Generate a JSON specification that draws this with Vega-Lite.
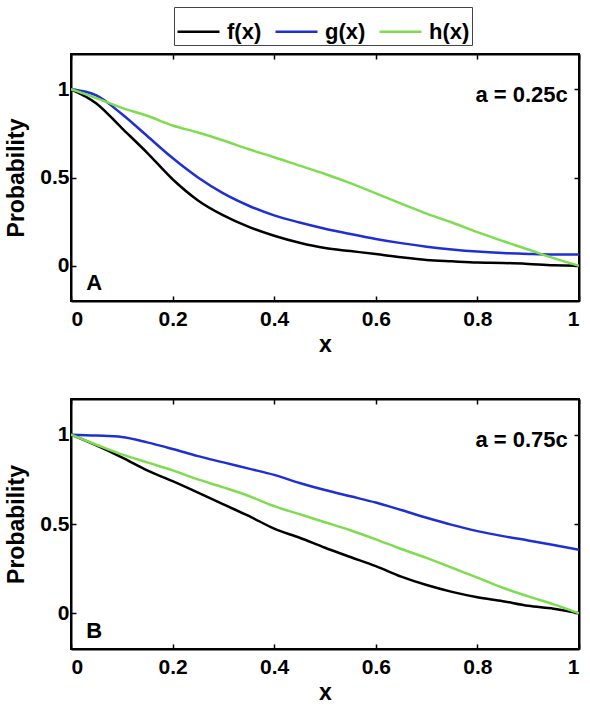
{
  "$schema": "https://vega.github.io/schema/vega-lite/v6.json",
  "background": "white",
  "padding": {"left": 4, "top": 6, "right": 5, "bottom": 5},
  "config": {
    "font": "Liberation Sans",
    "view": {"stroke": "black", "strokeWidth": 2},
    "axis": {
      "domainColor": "black", "domainWidth": 2, "tickColor": "black", "tickWidth": 1.5,
      "tickSize": -5, "grid": false,
      "labelFont": "Liberation Sans", "labelFontSize": 21, "labelFontWeight": "bold", "labelColor": "black",
      "titleFont": "Liberation Sans", "titleFontSize": 23, "titleFontWeight": "bold", "titleColor": "black"
    },
    "legend": {
      "labelFont": "Liberation Sans", "labelFontSize": 22, "labelFontWeight": "bold", "labelColor": "black"
    }
  },
  "datasets": {
    "curves": [
      {"panel":"A","series":"f(x)","x":0,"y":1},{"panel":"A","series":"f(x)","x":0.05,"y":0.92},{"panel":"A","series":"f(x)","x":0.1,"y":0.78},{"panel":"A","series":"f(x)","x":0.15,"y":0.64},{"panel":"A","series":"f(x)","x":0.2,"y":0.49},{"panel":"A","series":"f(x)","x":0.25,"y":0.37},{"panel":"A","series":"f(x)","x":0.3,"y":0.285},{"panel":"A","series":"f(x)","x":0.35,"y":0.22},{"panel":"A","series":"f(x)","x":0.4,"y":0.17},{"panel":"A","series":"f(x)","x":0.45,"y":0.13},{"panel":"A","series":"f(x)","x":0.5,"y":0.1},{"panel":"A","series":"f(x)","x":0.55,"y":0.083},{"panel":"A","series":"f(x)","x":0.6,"y":0.066},{"panel":"A","series":"f(x)","x":0.65,"y":0.048},{"panel":"A","series":"f(x)","x":0.7,"y":0.033},{"panel":"A","series":"f(x)","x":0.75,"y":0.025},{"panel":"A","series":"f(x)","x":0.8,"y":0.018},{"panel":"A","series":"f(x)","x":0.85,"y":0.016},{"panel":"A","series":"f(x)","x":0.9,"y":0.01},{"panel":"A","series":"f(x)","x":0.95,"y":0.002},{"panel":"A","series":"f(x)","x":1,"y":0},
      {"panel":"A","series":"g(x)","x":0,"y":1},{"panel":"A","series":"g(x)","x":0.05,"y":0.965},{"panel":"A","series":"g(x)","x":0.1,"y":0.86},{"panel":"A","series":"g(x)","x":0.15,"y":0.735},{"panel":"A","series":"g(x)","x":0.2,"y":0.61},{"panel":"A","series":"g(x)","x":0.25,"y":0.5},{"panel":"A","series":"g(x)","x":0.3,"y":0.41},{"panel":"A","series":"g(x)","x":0.35,"y":0.34},{"panel":"A","series":"g(x)","x":0.4,"y":0.285},{"panel":"A","series":"g(x)","x":0.45,"y":0.245},{"panel":"A","series":"g(x)","x":0.5,"y":0.21},{"panel":"A","series":"g(x)","x":0.55,"y":0.18},{"panel":"A","series":"g(x)","x":0.6,"y":0.152},{"panel":"A","series":"g(x)","x":0.65,"y":0.128},{"panel":"A","series":"g(x)","x":0.7,"y":0.108},{"panel":"A","series":"g(x)","x":0.75,"y":0.092},{"panel":"A","series":"g(x)","x":0.8,"y":0.08},{"panel":"A","series":"g(x)","x":0.85,"y":0.072},{"panel":"A","series":"g(x)","x":0.9,"y":0.067},{"panel":"A","series":"g(x)","x":0.95,"y":0.064},{"panel":"A","series":"g(x)","x":1,"y":0.064},
      {"panel":"A","series":"h(x)","x":0,"y":1},{"panel":"A","series":"h(x)","x":0.05,"y":0.95},{"panel":"A","series":"h(x)","x":0.1,"y":0.895},{"panel":"A","series":"h(x)","x":0.15,"y":0.85},{"panel":"A","series":"h(x)","x":0.2,"y":0.795},{"panel":"A","series":"h(x)","x":0.25,"y":0.755},{"panel":"A","series":"h(x)","x":0.3,"y":0.71},{"panel":"A","series":"h(x)","x":0.35,"y":0.66},{"panel":"A","series":"h(x)","x":0.4,"y":0.615},{"panel":"A","series":"h(x)","x":0.45,"y":0.567},{"panel":"A","series":"h(x)","x":0.5,"y":0.52},{"panel":"A","series":"h(x)","x":0.55,"y":0.468},{"panel":"A","series":"h(x)","x":0.6,"y":0.41},{"panel":"A","series":"h(x)","x":0.65,"y":0.352},{"panel":"A","series":"h(x)","x":0.7,"y":0.295},{"panel":"A","series":"h(x)","x":0.75,"y":0.245},{"panel":"A","series":"h(x)","x":0.8,"y":0.19},{"panel":"A","series":"h(x)","x":0.85,"y":0.14},{"panel":"A","series":"h(x)","x":0.9,"y":0.092},{"panel":"A","series":"h(x)","x":0.95,"y":0.043},{"panel":"A","series":"h(x)","x":1,"y":0},
      {"panel":"B","series":"f(x)","x":0,"y":1},{"panel":"B","series":"f(x)","x":0.05,"y":0.94},{"panel":"B","series":"f(x)","x":0.1,"y":0.873},{"panel":"B","series":"f(x)","x":0.15,"y":0.8},{"panel":"B","series":"f(x)","x":0.2,"y":0.74},{"panel":"B","series":"f(x)","x":0.25,"y":0.676},{"panel":"B","series":"f(x)","x":0.3,"y":0.61},{"panel":"B","series":"f(x)","x":0.35,"y":0.545},{"panel":"B","series":"f(x)","x":0.4,"y":0.474},{"panel":"B","series":"f(x)","x":0.45,"y":0.423},{"panel":"B","series":"f(x)","x":0.5,"y":0.367},{"panel":"B","series":"f(x)","x":0.55,"y":0.315},{"panel":"B","series":"f(x)","x":0.6,"y":0.264},{"panel":"B","series":"f(x)","x":0.65,"y":0.205},{"panel":"B","series":"f(x)","x":0.7,"y":0.158},{"panel":"B","series":"f(x)","x":0.75,"y":0.12},{"panel":"B","series":"f(x)","x":0.8,"y":0.09},{"panel":"B","series":"f(x)","x":0.85,"y":0.068},{"panel":"B","series":"f(x)","x":0.9,"y":0.042},{"panel":"B","series":"f(x)","x":0.95,"y":0.026},{"panel":"B","series":"f(x)","x":1,"y":0},
      {"panel":"B","series":"g(x)","x":0,"y":1},{"panel":"B","series":"g(x)","x":0.05,"y":0.995},{"panel":"B","series":"g(x)","x":0.1,"y":0.987},{"panel":"B","series":"g(x)","x":0.15,"y":0.957},{"panel":"B","series":"g(x)","x":0.2,"y":0.92},{"panel":"B","series":"g(x)","x":0.25,"y":0.88},{"panel":"B","series":"g(x)","x":0.3,"y":0.845},{"panel":"B","series":"g(x)","x":0.35,"y":0.81},{"panel":"B","series":"g(x)","x":0.4,"y":0.775},{"panel":"B","series":"g(x)","x":0.45,"y":0.73},{"panel":"B","series":"g(x)","x":0.5,"y":0.69},{"panel":"B","series":"g(x)","x":0.55,"y":0.655},{"panel":"B","series":"g(x)","x":0.6,"y":0.62},{"panel":"B","series":"g(x)","x":0.65,"y":0.578},{"panel":"B","series":"g(x)","x":0.7,"y":0.535},{"panel":"B","series":"g(x)","x":0.75,"y":0.495},{"panel":"B","series":"g(x)","x":0.8,"y":0.46},{"panel":"B","series":"g(x)","x":0.85,"y":0.432},{"panel":"B","series":"g(x)","x":0.9,"y":0.408},{"panel":"B","series":"g(x)","x":0.95,"y":0.382},{"panel":"B","series":"g(x)","x":1,"y":0.355},
      {"panel":"B","series":"h(x)","x":0,"y":1},{"panel":"B","series":"h(x)","x":0.05,"y":0.944},{"panel":"B","series":"h(x)","x":0.1,"y":0.89},{"panel":"B","series":"h(x)","x":0.15,"y":0.845},{"panel":"B","series":"h(x)","x":0.2,"y":0.8},{"panel":"B","series":"h(x)","x":0.25,"y":0.75},{"panel":"B","series":"h(x)","x":0.3,"y":0.705},{"panel":"B","series":"h(x)","x":0.35,"y":0.657},{"panel":"B","series":"h(x)","x":0.4,"y":0.6},{"panel":"B","series":"h(x)","x":0.45,"y":0.555},{"panel":"B","series":"h(x)","x":0.5,"y":0.51},{"panel":"B","series":"h(x)","x":0.55,"y":0.465},{"panel":"B","series":"h(x)","x":0.6,"y":0.414},{"panel":"B","series":"h(x)","x":0.65,"y":0.36},{"panel":"B","series":"h(x)","x":0.7,"y":0.31},{"panel":"B","series":"h(x)","x":0.75,"y":0.255},{"panel":"B","series":"h(x)","x":0.8,"y":0.2},{"panel":"B","series":"h(x)","x":0.85,"y":0.143},{"panel":"B","series":"h(x)","x":0.9,"y":0.095},{"panel":"B","series":"h(x)","x":0.95,"y":0.05},{"panel":"B","series":"h(x)","x":1,"y":0}
    ]
  },
  "resolve": {"scale": {"color": "shared"}, "legend": {"color": "shared"}},
  "spacing": 40,
  "vconcat": [
    {
      "width": 508, "height": 247,
      "resolve": {"axis": {"x": "independent", "y": "independent"}},
      "layer": [
        {
          "data": {"name": "curves"},
          "transform": [{"filter": "datum.panel === 'A'"}],
          "mark": {"type": "line", "strokeWidth": 2.5, "clip": true, "interpolate": "monotone"},
          "encoding": {
            "x": {"field": "x", "type": "quantitative", "scale": {"domain": [0, 1], "nice": false},
                  "axis": {"orient": "bottom", "values": [0, 0.2, 0.4, 0.6, 0.8, 1], "format": "~g", "title": "x", "labelPadding": 12, "titlePadding": 4}},
            "y": {"field": "y", "type": "quantitative", "scale": {"domain": [-0.2, 1.2], "nice": false, "zero": false},
                  "axis": {"orient": "left", "values": [0, 0.5, 1], "format": "~g", "title": "Probability", "labelPadding": 7, "titlePadding": 11}},
            "color": {"field": "series", "type": "nominal",
                      "scale": {"domain": ["f(x)", "g(x)", "h(x)"], "range": ["#000000", "#1f2fd6", "#7edc50"]},
                      "legend": {"orient": "none", "direction": "horizontal", "legendX": 103, "legendY": -47, "title": null,
                                 "symbolType": "stroke", "symbolSize": 1764, "symbolStrokeWidth": 2.5,
                                 "strokeColor": "#444", "fillColor": "white", "padding": 2, "labelOffset": 6, "columnPadding": 8}},
            "order": {"field": "x", "type": "quantitative"}
          }
        },
        {
          "data": {"values": [{"label": "A"}]},
          "mark": {"type": "text", "align": "left", "baseline": "middle", "fontSize": 22, "fontWeight": "bold", "font": "Liberation Sans", "color": "black"},
          "encoding": {
            "x": {"datum": 0.03, "type": "quantitative", "scale": {"domain": [0, 1], "nice": false},
                  "axis": {"orient": "top", "values": [0, 0.2, 0.4, 0.6, 0.8, 1], "labels": false, "title": null}},
            "y": {"datum": -0.1, "type": "quantitative", "scale": {"domain": [-0.2, 1.2], "nice": false, "zero": false},
                  "axis": {"orient": "right", "values": [0, 0.5, 1], "labels": false, "title": null}},
            "text": {"field": "label"}
          }
        },
        {
          "data": {"values": [{"label": "a = 0.25c"}]},
          "mark": {"type": "text", "align": "right", "baseline": "middle", "fontSize": 22, "fontWeight": "bold", "font": "Liberation Sans", "color": "black"},
          "encoding": {
            "x": {"datum": 0.978, "type": "quantitative", "scale": {"domain": [0, 1], "nice": false}, "axis": null},
            "y": {"datum": 0.97, "type": "quantitative", "scale": {"domain": [-0.2, 1.2], "nice": false, "zero": false}, "axis": null},
            "text": {"field": "label"}
          }
        }
      ]
    },
    {
      "width": 508, "height": 250,
      "resolve": {"axis": {"x": "independent", "y": "independent"}},
      "layer": [
        {
          "data": {"name": "curves"},
          "transform": [{"filter": "datum.panel === 'B'"}],
          "mark": {"type": "line", "strokeWidth": 2.5, "clip": true, "interpolate": "monotone"},
          "encoding": {
            "x": {"field": "x", "type": "quantitative", "scale": {"domain": [0, 1], "nice": false},
                  "axis": {"orient": "bottom", "values": [0, 0.2, 0.4, 0.6, 0.8, 1], "format": "~g", "title": "x", "labelPadding": 12, "titlePadding": 4}},
            "y": {"field": "y", "type": "quantitative", "scale": {"domain": [-0.2, 1.2], "nice": false, "zero": false},
                  "axis": {"orient": "left", "values": [0, 0.5, 1], "format": "~g", "title": "Probability", "labelPadding": 7, "titlePadding": 11}},
            "color": {"field": "series", "type": "nominal",
                      "scale": {"domain": ["f(x)", "g(x)", "h(x)"], "range": ["#000000", "#1f2fd6", "#7edc50"]}},
            "order": {"field": "x", "type": "quantitative"}
          }
        },
        {
          "data": {"values": [{"label": "B"}]},
          "mark": {"type": "text", "align": "left", "baseline": "middle", "fontSize": 22, "fontWeight": "bold", "font": "Liberation Sans", "color": "black"},
          "encoding": {
            "x": {"datum": 0.03, "type": "quantitative", "scale": {"domain": [0, 1], "nice": false},
                  "axis": {"orient": "top", "values": [0, 0.2, 0.4, 0.6, 0.8, 1], "labels": false, "title": null}},
            "y": {"datum": -0.1, "type": "quantitative", "scale": {"domain": [-0.2, 1.2], "nice": false, "zero": false},
                  "axis": {"orient": "right", "values": [0, 0.5, 1], "labels": false, "title": null}},
            "text": {"field": "label"}
          }
        },
        {
          "data": {"values": [{"label": "a = 0.75c"}]},
          "mark": {"type": "text", "align": "right", "baseline": "middle", "fontSize": 22, "fontWeight": "bold", "font": "Liberation Sans", "color": "black"},
          "encoding": {
            "x": {"datum": 0.978, "type": "quantitative", "scale": {"domain": [0, 1], "nice": false}, "axis": null},
            "y": {"datum": 0.97, "type": "quantitative", "scale": {"domain": [-0.2, 1.2], "nice": false, "zero": false}, "axis": null},
            "text": {"field": "label"}
          }
        }
      ]
    }
  ]
}
